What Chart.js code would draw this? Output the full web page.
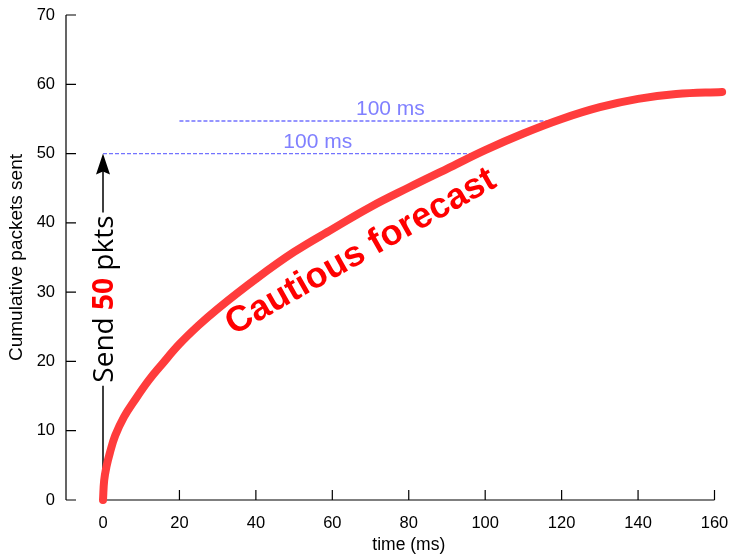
<!DOCTYPE html>
<html>
<head>
<meta charset="utf-8">
<script src="https://cdn.jsdelivr.net/npm/chart.js@4.4.1/dist/chart.umd.min.js"></script>
<style>
  html, body { margin: 0; padding: 0; background: #fff; }
  #wrap { width: 732px; height: 556px; position: relative; }
</style>
</head>
<body>
<div id="wrap"><canvas id="c"></canvas></div>
<script>
// cautious forecast curve (time in ms, cumulative packets)
const timeMs  = [0, 0.3, 0.9, 1.8, 3.2, 5.5, 8.3, 12, 15.3, 20, 25, 30, 40, 50, 60, 70, 80, 90, 100, 110, 120, 130, 140, 150, 162];
const packets = [0, 2.8, 4.8, 6.8, 9.3, 12, 14.4, 17.3, 19.5, 22.5, 25.2, 27.6, 31.9, 35.8, 39.1, 42.3, 45.1, 47.8, 50.5, 52.9, 55.0, 56.7, 57.9, 58.6, 58.9];

// the two "100 ms" dashed guides
const guide1X = [0, 97.7];
const guide1Y = [50, 50];
const guide2X = [20, 118.5];
const guide2Y = [54.7, 54.7];

// "send 50 pkts" arrow
const arrowX = 0;
const arrowFrom = 0;
const arrowTo = 50;

const xTicks = [0, 20, 40, 60, 80, 100, 120, 140, 160];
const yTicks = [0, 10, 20, 30, 40, 50, 60, 70];

const FONT = "'Liberation Sans', Arial, Helvetica, sans-serif";

function pts(xs, ys) {
  return xs.map((v, i) => ({ x: v, y: ys[i] }));
}

const decor = {
  id: 'decor',
  beforeDatasetsDraw(chart) {
    const { ctx, scales: { x, y } } = chart;
    ctx.save();
    ctx.strokeStyle = '#000';
    ctx.lineWidth = 1.2;

    // left axis, pulled away from the plot
    const ax = chart.chartArea.left - 37;
    ctx.beginPath();
    ctx.moveTo(ax, y.getPixelForValue(70));
    ctx.lineTo(ax, y.getPixelForValue(0));
    yTicks.forEach(t => {
      const py = y.getPixelForValue(t);
      ctx.moveTo(ax, py);
      ctx.lineTo(ax + 10, py);
    });
    ctx.stroke();

    // bottom axis
    const by = y.getPixelForValue(0);
    ctx.beginPath();
    ctx.moveTo(x.getPixelForValue(0), by);
    ctx.lineTo(x.getPixelForValue(160), by);
    xTicks.forEach(t => {
      const px = x.getPixelForValue(t);
      ctx.moveTo(px, by);
      ctx.lineTo(px, by - 10);
    });
    ctx.stroke();

    // arrow with the label breaking it
    const px = x.getPixelForValue(arrowX);
    const y0 = y.getPixelForValue(arrowFrom);
    const y1 = y.getPixelForValue(arrowTo);
    const midY = y.getPixelForValue(29);

    const fN = "28px 'Open Sans', 'DejaVu Sans', sans-serif";
    const fB = "bold 28px 'Open Sans', 'DejaVu Sans', sans-serif";
    const parts = [['Send ', fN, '#000'], ['50', fB, '#ff0000'], [' pkts', fN, '#000']];
    let total = 0;
    parts.forEach(p => { ctx.font = p[1]; p.push(ctx.measureText(p[0]).width); total += p[3]; });

    const gapBot = midY + total / 2 + 3;
    const gapTop = midY - total / 2 - 3;

    ctx.lineWidth = 1.5;
    ctx.beginPath();
    ctx.moveTo(px, y0);
    ctx.lineTo(px, gapBot);
    ctx.moveTo(px, gapTop);
    ctx.lineTo(px, y1 + 15);
    ctx.stroke();

    ctx.fillStyle = '#000';
    ctx.beginPath();
    ctx.moveTo(px, y1);
    ctx.lineTo(px - 7, y1 + 21);
    ctx.lineTo(px, y1 + 18);
    ctx.lineTo(px + 7, y1 + 21);
    ctx.closePath();
    ctx.fill();

    ctx.save();
    ctx.translate(px, midY);
    ctx.rotate(-Math.PI / 2);
    ctx.textBaseline = 'alphabetic';
    ctx.textAlign = 'left';
    let cx = -total / 2;
    parts.forEach(p => {
      ctx.font = p[1];
      ctx.fillStyle = p[2];
      ctx.fillText(p[0], cx, 10);
      cx += p[3];
    });
    ctx.restore();
    ctx.restore();
  },
  afterDatasetsDraw(chart) {
    const { ctx, scales: { x, y } } = chart;
    ctx.save();
    ctx.textAlign = 'center';
    ctx.textBaseline = 'middle';

    ctx.font = '21px ' + FONT;
    ctx.fillStyle = '#8080ff';
    ctx.fillText('100 ms', x.getPixelForValue(56.2), y.getPixelForValue(51.7));
    ctx.fillText('100 ms', x.getPixelForValue(75.2), y.getPixelForValue(56.4));

    ctx.translate(x.getPixelForValue(67.5), y.getPixelForValue(35.8));
    ctx.rotate(-29.5 * Math.PI / 180);
    ctx.font = 'bold 36px ' + FONT;
    ctx.fillStyle = '#ff0000';
    ctx.fillText('Cautious forecast', 0, 0);
    ctx.restore();
  }
};

new Chart(document.getElementById('c'), {
  type: 'line',
  data: {
    datasets: [
      {
        data: pts(timeMs, packets),
        borderColor: '#ff3c3c',
        borderWidth: 8,
        borderCapStyle: 'round',
        borderJoinStyle: 'round',
        tension: 0.4,
        pointRadius: 0,
        clip: false
      },
      {
        data: pts(guide1X, guide1Y),
        borderColor: '#7373ff',
        borderWidth: 1.3,
        borderDash: [4, 2],
        pointRadius: 0
      },
      {
        data: pts(guide2X, guide2Y),
        borderColor: '#7373ff',
        borderWidth: 1.3,
        borderDash: [4, 2],
        pointRadius: 0
      }
    ]
  },
  options: {
    responsive: true,
    maintainAspectRatio: false,
    animation: false,
    layout: { padding: { top: 15, right: 17.5, left: 0, bottom: 0 } },
    plugins: { legend: { display: false }, tooltip: { enabled: false } },
    scales: {
      x: {
        type: 'linear',
        min: 0,
        max: 160,
        afterBuildTicks: s => { s.ticks = xTicks.map(v => ({ value: v })); },
        ticks: { font: { size: 16.5, family: FONT }, color: '#000', padding: 14, maxRotation: 0 },
        grid: { display: false, drawTicks: false },
        border: { display: false },
        title: { display: true, text: 'time (ms)', font: { size: 17.5, family: FONT }, color: '#000', padding: { top: 0, bottom: 0 } },
        afterFit: s => { s.height = 56; s.paddingLeft = 0; s.paddingRight = 0; }
      },
      y: {
        type: 'linear',
        min: 0,
        max: 70,
        afterBuildTicks: s => { s.ticks = yTicks.map(v => ({ value: v })); },
        ticks: { font: { size: 16.5, family: FONT }, color: '#000', padding: 48 },
        grid: { display: false, drawTicks: false },
        border: { display: false },
        title: { display: true, text: 'Cumulative packets sent', font: { size: 19, family: FONT }, color: '#000', padding: { top: 5, bottom: 0 } },
        afterFit: s => { s.width = 103; s.paddingTop = 0; s.paddingBottom = 0; }
      }
    }
  },
  plugins: [decor]
});
</script>
</body>
</html>
